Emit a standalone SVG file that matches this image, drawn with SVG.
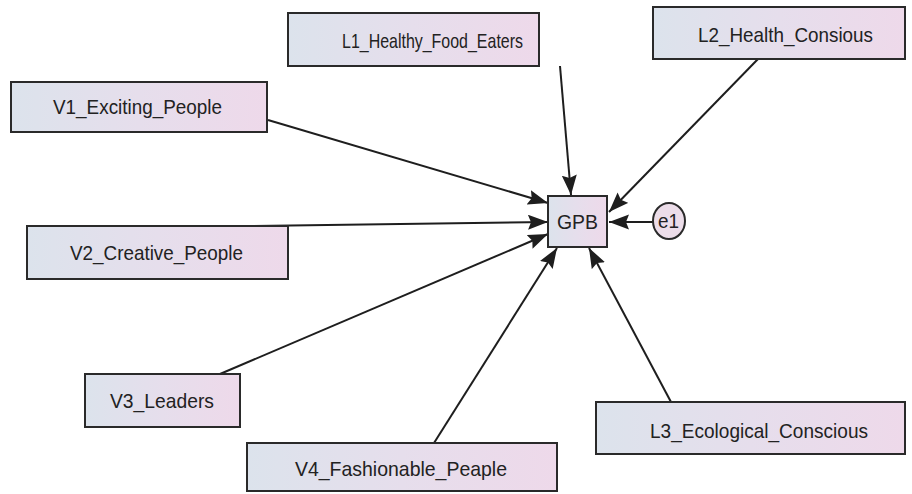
<svg xmlns="http://www.w3.org/2000/svg" width="912" height="494" viewBox="0 0 912 494">
<defs>
<linearGradient id="g" x1="0" y1="0" x2="1" y2="0">
<stop offset="0" stop-color="#dce3ec"/>
<stop offset="0.5" stop-color="#e6deec"/>
<stop offset="1" stop-color="#eed9ea"/>
</linearGradient>
<marker id="arr" markerUnits="userSpaceOnUse" markerWidth="22" markerHeight="16" refX="20" refY="7.5" orient="auto">
<path d="M0,0 L20,7.5 L0,15 L3,7.5 Z" fill="#1e1e1e"/>
</marker>
</defs>
<style>
.box{fill:url(#g);stroke:#2a2a2a;stroke-width:2}
.t{font-family:"Liberation Sans",Arial,sans-serif;font-size:21px;fill:#222}
.c{stroke:#1e1e1e;stroke-width:2;fill:none;marker-end:url(#arr)}
</style>
<rect width="912" height="494" fill="#ffffff"/>
<g id="connectors">
<line class="c" x1="268" y1="120" x2="548" y2="203"/>
<line class="c" x1="560" y1="66" x2="571" y2="195"/>
<line class="c" x1="758" y1="59" x2="609" y2="212"/>
<line class="c" x1="653" y1="222" x2="609" y2="222"/>
<line class="c" x1="253" y1="226" x2="548" y2="222"/>
<line class="c" x1="220" y1="374" x2="548" y2="234"/>
<line class="c" x1="434" y1="443" x2="557" y2="248"/>
<line class="c" x1="671" y1="402" x2="589" y2="248"/>
</g>
<g id="V1"><rect class="box" x="11" y="82" width="256" height="50"/><text class="t" x="53" y="114" textLength="169" lengthAdjust="spacingAndGlyphs">V1_Exciting_People</text></g>
<g id="L1"><rect class="box" x="288" y="13" width="251" height="53"/><text class="t" x="342" y="48" textLength="181" lengthAdjust="spacingAndGlyphs">L1_Healthy_Food_Eaters</text></g>
<g id="L2"><rect class="box" x="653" y="7" width="252" height="52"/><text class="t" x="698" y="42" textLength="175" lengthAdjust="spacingAndGlyphs">L2_Health_Consious</text></g>
<g id="V2"><rect class="box" x="27" y="226" width="261" height="53"/><text class="t" x="70" y="260" textLength="173" lengthAdjust="spacingAndGlyphs">V2_Creative_People</text></g>
<g id="V3"><rect class="box" x="85" y="374" width="155" height="53"/><text class="t" x="110" y="408" textLength="104" lengthAdjust="spacingAndGlyphs">V3_Leaders</text></g>
<g id="V4"><rect class="box" x="247" y="443" width="310" height="48"/><text class="t" x="295" y="476" textLength="212" lengthAdjust="spacingAndGlyphs">V4_Fashionable_Peaple</text></g>
<g id="L3"><rect class="box" x="596" y="402" width="309" height="52"/><text class="t" x="650" y="438" textLength="218" lengthAdjust="spacingAndGlyphs">L3_Ecological_Conscious</text></g>
<g id="GPB"><rect class="box" x="548" y="196" width="59" height="51"/><text class="t" x="557" y="229" textLength="41" lengthAdjust="spacingAndGlyphs">GPB</text></g>
<g id="e1"><ellipse cx="669" cy="221" rx="16" ry="18" fill="#ecdde9" stroke="#2a2a2a" stroke-width="2"/><text class="t" x="658" y="228" textLength="21" lengthAdjust="spacingAndGlyphs">e1</text></g>
</svg>
